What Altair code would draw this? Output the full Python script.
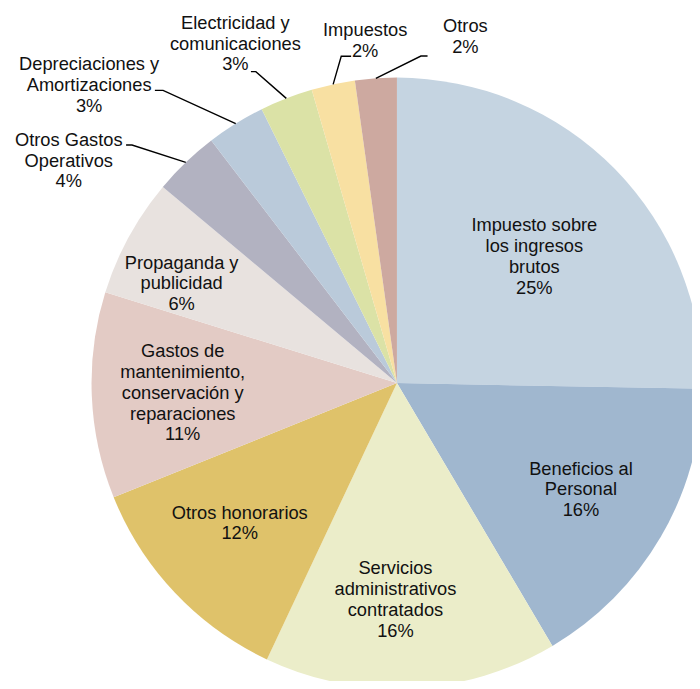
import math
import altair as alt
import pandas as pd

# ---------------- data ----------------
categories = [
    "Impuesto sobre los ingresos brutos",
    "Beneficios al Personal",
    "Servicios administrativos contratados",
    "Otros honorarios",
    "Gastos de mantenimiento, conservación y reparaciones",
    "Propaganda y publicidad",
    "Otros Gastos Operativos",
    "Depreciaciones y Amortizaciones",
    "Electricidad y comunicaciones",
    "Impuestos",
    "Otros",
]
values = [25.3, 16.2, 15.5, 11.9, 10.9, 6.3, 3.5, 3.1, 2.8, 2.3, 2.2]
pct_labels = ["25%", "16%", "16%", "12%", "11%", "6%", "4%", "3%", "3%", "2%", "2%"]
label_lines = [
    ["Impuesto sobre", "los ingresos", "brutos"],
    ["Beneficios al", "Personal"],
    ["Servicios", "administrativos", "contratados"],
    ["Otros honorarios"],
    ["Gastos de", "mantenimiento,", "conservación y", "reparaciones"],
    ["Propaganda y", "publicidad"],
    ["Otros Gastos", "Operativos"],
    ["Depreciaciones y", "Amortizaciones"],
    ["Electricidad y", "comunicaciones"],
    ["Impuestos"],
    ["Otros"],
]
colors = ["#C5D4E1", "#A0B7CF", "#EBEDC9", "#DFC26A", "#E3CBC5", "#E8E2DF",
          "#B2B2C1", "#BACADA", "#DBE2A6", "#F8E0A2", "#CDA9A0"]

# ---------------- layout ----------------
W, H = 692, 673
CX, CY, R = 393.5, 375.5, 309
FONT = "Liberation Sans, Arial, sans-serif"
FS, LH = 18.5, 21
# labels inside their slice: (radius, angle tweak in degrees)
inner_layout = {0: (189, 1.8), 1: (215, -0.2), 2: (219, 3.1),
                3: (213, 1.7), 4: (217, -0.3), 5: (240, -3.8)}
# outside labels: offsets from the slice's outer-edge midpoint
# (text centre, leader elbow, leader end next to the text)
outer_layout = {
    6: ((-118.4, -1.6), (-54.4, -17.6), (-60.4, -17.6)),
    7: ((-148.3, -39.0), (-73.5, -33.7), (-81.8, -33.7)),
    8: ((-51.5, -55.3), (-30.8, -27.0), (-35.8, -27.0)),
    9: ((32.4, -44.2), (8.2, -28.4), (18.2, -28.4)),
    10: ((90.6, -42.3), (45.6, -22.6), (52.3, -22.6)),
}

total = sum(values)
rows, text_rows, lead_rows = [], [], []
cum = 0.0
for i, (cat, v) in enumerate(zip(categories, values)):
    mid = (cum + v / 2) / total * 2 * math.pi
    cum += v
    rows.append({"idx": i, "category": cat, "value": v})
    lines = label_lines[i] + [pct_labels[i]]
    text = "\n".join(lines)
    lift = (len(lines) - 1) * LH / 2  # Vega anchors the first line; centre the block
    if i in inner_layout:
        lr, tweak = inner_layout[i]
        a = mid + math.radians(tweak)
        text_rows.append({"x": CX + lr * math.sin(a), "y": CY - lr * math.cos(a) - lift, "text": text})
    else:
        ex, ey = CX + R * math.sin(mid), CY - R * math.cos(mid)
        (tdx, tdy), (edx, edy), (ndx, ndy) = outer_layout[i]
        text_rows.append({"x": ex + tdx, "y": ey + tdy - lift, "text": text})
        for p, (px, py) in enumerate([(ex, ey), (ex + edx, ey + edy), (ex + ndx, ey + ndy)]):
            lead_rows.append({"label": cat, "pt": p, "x": px, "y": py})

df = pd.DataFrame(rows)
df_text = pd.DataFrame(text_rows)
df_lead = pd.DataFrame(lead_rows)

arcs = alt.Chart(df).mark_arc(radius=R).encode(
    theta=alt.Theta("value:Q", stack=True),
    order=alt.Order("idx:Q"),
    color=alt.Color("category:N", scale=alt.Scale(domain=categories, range=colors), legend=None),
    x=alt.value(CX),
    y=alt.value(CY),
)

leaders = alt.Chart(df_lead).mark_line(color="#000000", strokeWidth=1.4).encode(
    x=alt.X("x:Q", scale=None, axis=None),
    y=alt.Y("y:Q", scale=None, axis=None),
    detail="label:N",
    order="pt:Q",
)

labels = alt.Chart(df_text).mark_text(
    font=FONT, fontSize=FS, lineHeight=LH, lineBreak="\n",
    align="center", baseline="middle", color="#111111",
).encode(
    x=alt.X("x:Q", scale=None, axis=None),
    y=alt.Y("y:Q", scale=None, axis=None),
    text="text:N",
)

chart = alt.layer(arcs, leaders, labels).properties(
    width=W, height=H, padding=0,
    autosize=alt.AutoSizeParams(type="none"),
).configure_view(stroke=None)

chart.save("out.html", embed_options={"renderer": "svg", "actions": False})
